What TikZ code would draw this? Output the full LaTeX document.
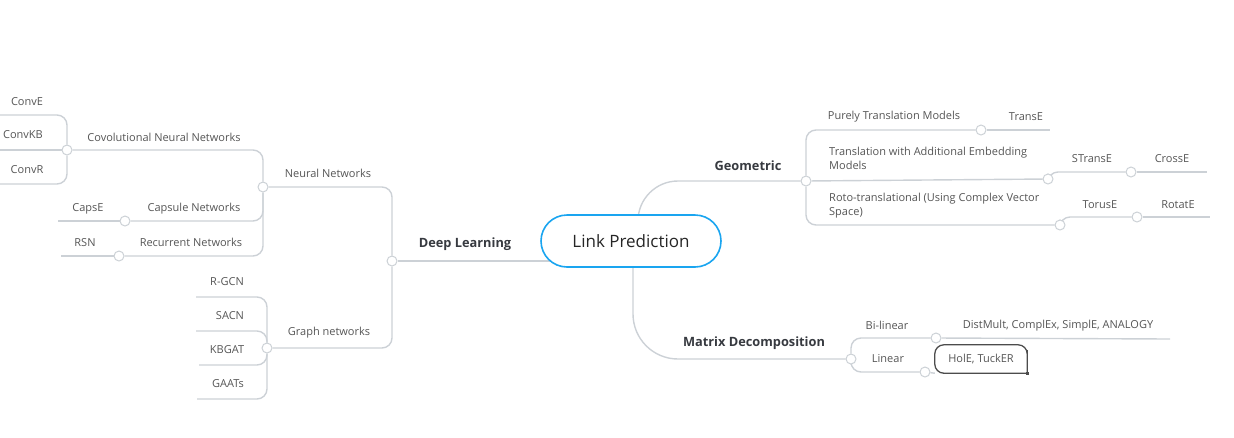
\documentclass[tikz,border=0pt]{standalone}
\usepackage{fontspec}
\setmainfont{Open Sans}
\usetikzlibrary{positioning,calc,backgrounds}
\definecolor{linegray}{RGB}{204,209,214}
\definecolor{textgray}{RGB}{85,85,85}
\definecolor{headgray}{RGB}{55,58,64}
\definecolor{rootblue}{RGB}{26,165,240}
\tikzstyle{root} = [rectangle, rounded corners=26pt, minimum width=180pt, minimum height=52pt, draw=rootblue, line width=1.6pt, fill=white, font=\fontsize{17}{20}\selectfont, text=black!85]
\tikzstyle{topic} = [font=\bfseries\fontsize{12.8}{15}\selectfont, text=headgray, inner sep=0pt, yshift=-1.5pt]
\tikzstyle{leaf} = [font=\fontsize{11}{13.5}\selectfont, text=textgray, inner sep=0pt, yshift=-1.5pt]
\tikzstyle{dot} = [circle, draw=linegray, line width=1pt, fill=white, minimum size=10pt, inner sep=0pt]
\tikzstyle{branch} = [draw=linegray, line width=1.4pt, rounded corners=10pt]
\tikzstyle{picked} = [rectangle, minimum width=92pt, minimum height=28pt, font=\fontsize{11}{13.5}\selectfont, text=textgray]

\begin{document}
\begin{tikzpicture}[x=1pt,y=-1pt]
\useasboundingbox (0,0) rectangle (1234,437);

\node (lp) [root] at (631,241) {Link Prediction};
%
% deep learning side
\node (dl) [dot] at (392,261) {};
\node (dlt) [topic] at (465,243) {Deep Learning};
\node (nn) [dot] at (263,187) {};
\node (nnt) [leaf] at (328,172) {Neural Networks};
\node (cnn) [dot] at (67,150) {};
\node (cnnt) [leaf] at (164,136) {Covolutional Neural Networks};
\node (conve) [leaf] at (27,100) {ConvE};
\node (convkb) [leaf] at (23,133) {ConvKB};
\node (convr) [leaf] at (27,168) {ConvR};
\coordinate (conve-l) at (0,115);
\coordinate (convkb-l) at (0,150);
\coordinate (convr-l) at (0,184);
\node (caps) [dot] at (125,221) {};
\node (capst) [leaf] at (194,207) {Capsule Networks};
\node (capse) [leaf] at (88,207) {CapsE};
\coordinate (capse-l) at (58,221);
\node (rnn) [dot] at (119,256) {};
\node (rnnt) [leaf] at (191,241) {Recurrent Networks};
\node (rsn) [leaf] at (85,241) {RSN};
\coordinate (rsn-l) at (61,256);
\node (gn) [dot] at (267,348) {};
\node (gnt) [leaf] at (329,331) {Graph networks};
\node (rgcn) [leaf] at (227,280) {R-GCN};
\node (sacn) [leaf] at (230,314) {SACN};
\node (kbgat) [leaf] at (227,348) {KBGAT};
\node (gaat) [leaf] at (228,382) {GAATs};
\coordinate (rgcn-l) at (196,297);
\coordinate (sacn-l) at (196,331);
\coordinate (kbgat-l) at (199,365);
\coordinate (gaat-l) at (197,399);
%
% geometric side
\node (geo) [dot] at (806,181) {};
\node (geot) [topic] at (748,164) {Geometric};
\node (tr) [dot] at (981,130) {};
\node (trt) [leaf] at (894,115) {Purely Translation Models};
\node (transe) [leaf] at (1026,115) {TransE};
\coordinate (transe-l) at (1050,130);
\node (st) [dot] at (1048,179) {};
\node (stt) [leaf, align=left, anchor=west] at (829,157) {Translation with Additional Embedding\\Models};
\node (stranse) [leaf] at (1092,157) {STransE};
\node (cx) [dot] at (1131,172) {};
\node (crosse) [leaf] at (1172,157) {CrossE};
\coordinate (crosse-l) at (1207,172);
\node (tor) [dot] at (1060,225) {};
\node (tort) [leaf, align=left, anchor=west] at (829,204) {Roto-translational (Using Complex Vector\\Space)};
\node (toruse) [leaf] at (1100,203) {TorusE};
\node (rot) [dot] at (1137,217) {};
\node (rotate) [leaf] at (1178,203) {RotatE};
\coordinate (rotate-l) at (1210,217);
%
% matrix side
\node (md) [dot] at (851,359) {};
\node (mdt) [topic] at (754,342) {Matrix Decomposition};
\node (bl) [dot] at (936,338) {};
\node (blt) [leaf] at (887,324) {Bi-linear};
\node (dist) [leaf] at (1058,324) {DistMult, ComplEx, SimplE, ANALOGY};
\coordinate (dist-l) at (1170,339);
\node (li) [dot] at (925,372) {};
\node (lit) [leaf] at (888,357) {Linear};
\node (hole) [picked] at (981,359) {HolE, TuckER};
\draw [black!70, line width=1.3pt] (hole.south) [rounded corners=9pt] -- (hole.south west) -- (hole.north west) -- (hole.north east) -- (hole.east) [sharp corners] -- (hole.south east) -- cycle;
\fill [black!70] ($(hole.south east)+(-1.5,-1.5)$) rectangle ++(3,3);

\begin{scope}[on background layer]
\draw [branch] (dl) -- (dl -| lp);
\draw [branch] (dl) |- (nn);
\draw [branch] (dl) |- (gn);
\draw [branch] (nn) |- (cnn);
\draw [branch] (nn) |- (caps);
\draw [branch] (nn) |- (rnn);
\draw [branch] (cnn) |- (conve-l);
\draw [branch] (cnn) -- (convkb-l);
\draw [branch] (cnn) |- (convr-l);
\draw [branch] (caps) -- (capse-l);
\draw [branch] (rnn) -- (rsn-l);
\draw [branch] (gn) |- (rgcn-l);
\draw [branch] (gn) |- (sacn-l);
\draw [branch] (gn) |- (kbgat-l);
\draw [branch] (gn) |- (gaat-l);
%
\draw [branch, rounded corners=40pt] ([xshift=7pt]lp.center) |- (geo);
\draw [branch] (geo) |- (tr);
\draw [branch] (tr) -- (transe-l);
\draw [branch] (geo) -- (st);
\draw [branch] (st) |- (cx);
\draw [branch] (cx) -- (crosse-l);
\draw [branch] (geo) |- (tor);
\draw [branch] (tor) |- (rot);
\draw [branch] (rot) -- (rotate-l);
%
\draw [branch, rounded corners=45pt] ([xshift=2pt]lp.center) |- (md);
\draw [branch] (md) |- (bl);
\draw [branch] (bl) -- (dist-l);
\draw [branch] (md) |- (li);
\draw [branch] (li) -- (hole.south west);
\end{scope}

\end{tikzpicture}
\end{document}
